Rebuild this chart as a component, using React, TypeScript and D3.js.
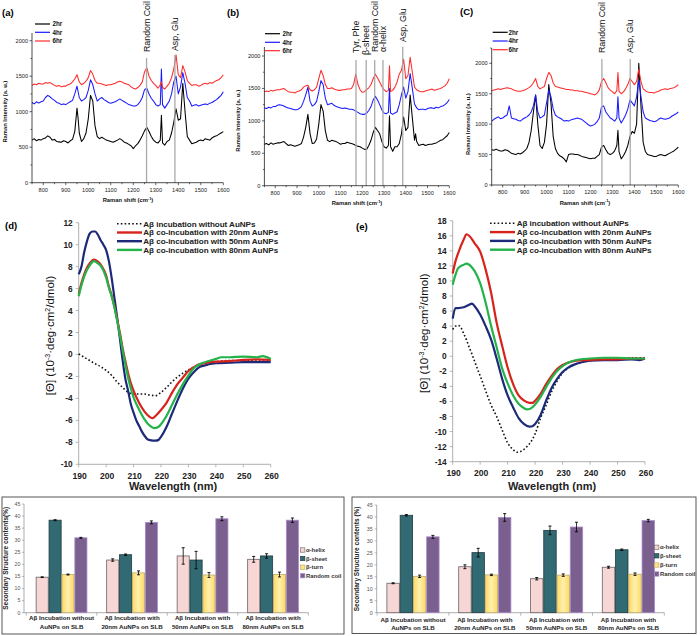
import React from 'react';
import * as d3 from 'd3';

const FONT = 'Arial, "Liberation Sans", Helvetica, sans-serif';
type Pt = [number, number];

// ---------------- Raman spectra (Raman shift cm-1, intensity a.u.) ----------------
const RAMAN_A_2HR: Pt[] = [[750,600],[760,620],[770,590],[780,610],[790,600],[800,620],[810,630],[820,660],[830,640],[840,600],[850,610],[860,580],[870,575],[880,570],[890,590],[900,580],[910,560],[920,590],[930,610],[940,720],[950,1050],[955,900],[960,700],[970,580],[980,620],[990,700],[1000,900],[1010,1230],[1020,1150],[1030,800],[1040,650],[1050,620],[1060,640],[1070,620],[1080,600],[1090,590],[1100,580],[1110,570],[1120,585],[1130,600],[1140,620],[1150,600],[1160,570],[1170,560],[1180,540],[1190,520],[1200,480],[1210,520],[1220,550],[1230,600],[1240,660],[1250,730],[1260,780],[1270,720],[1280,650],[1290,600],[1300,570],[1310,560],[1320,600],[1325,950],[1330,560],[1340,530],[1350,580],[1360,600],[1370,700],[1380,850],[1390,1040],[1400,880],[1410,900],[1420,1400],[1430,1000],[1440,650],[1450,600],[1460,550],[1470,560],[1480,570],[1490,590],[1500,600],[1510,590],[1520,620],[1530,610],[1540,600],[1550,630],[1560,650],[1570,660],[1580,680],[1590,700],[1600,720]];
const RAMAN_A_4HR: Pt[] = [[750,1130],[760,1110],[770,1140],[780,1120],[790,1140],[800,1150],[810,1200],[820,1230],[830,1210],[840,1180],[850,1160],[860,1130],[870,1120],[880,1100],[890,1110],[900,1100],[910,1120],[920,1140],[930,1160],[940,1250],[950,1360],[960,1200],[970,1150],[980,1170],[990,1200],[1000,1300],[1010,1450],[1020,1380],[1030,1250],[1040,1150],[1050,1180],[1060,1200],[1070,1170],[1080,1150],[1090,1130],[1100,1120],[1110,1130],[1120,1140],[1130,1160],[1140,1180],[1150,1160],[1160,1140],[1170,1120],[1180,1100],[1190,1090],[1200,1080],[1210,1080],[1220,1100],[1230,1140],[1240,1200],[1250,1310],[1260,1330],[1270,1250],[1280,1190],[1290,1150],[1300,1100],[1310,1080],[1320,1100],[1325,1600],[1330,1100],[1340,1050],[1350,1100],[1360,1150],[1370,1250],[1380,1420],[1390,1500],[1400,1250],[1410,1350],[1420,1550],[1430,1400],[1440,1200],[1450,1150],[1460,1080],[1470,1090],[1480,1100],[1490,1080],[1500,1090],[1510,1100],[1520,1110],[1530,1100],[1540,1120],[1550,1130],[1560,1150],[1570,1170],[1580,1200],[1590,1230],[1600,1280]];
const RAMAN_A_6HR: Pt[] = [[750,1370],[760,1390],[770,1380],[780,1400],[790,1390],[800,1390],[810,1410],[820,1400],[830,1410],[840,1390],[850,1370],[860,1360],[870,1370],[880,1350],[890,1360],[900,1360],[910,1380],[920,1390],[930,1420],[940,1460],[950,1520],[960,1420],[970,1380],[980,1400],[990,1430],[1000,1480],[1010,1580],[1020,1530],[1030,1440],[1040,1400],[1050,1400],[1060,1390],[1070,1380],[1080,1370],[1090,1380],[1100,1380],[1110,1390],[1120,1400],[1130,1420],[1140,1430],[1150,1420],[1160,1400],[1170,1390],[1180,1380],[1190,1350],[1200,1330],[1210,1320],[1220,1340],[1230,1370],[1240,1420],[1250,1560],[1260,1620],[1270,1500],[1280,1440],[1290,1400],[1300,1370],[1310,1330],[1320,1380],[1325,1420],[1330,1340],[1340,1320],[1350,1360],[1360,1400],[1370,1480],[1380,1600],[1390,1800],[1400,1520],[1410,1480],[1420,1650],[1430,1560],[1440,1440],[1450,1400],[1460,1370],[1470,1380],[1480,1380],[1490,1360],[1500,1370],[1510,1390],[1520,1400],[1530,1390],[1540,1410],[1550,1400],[1560,1420],[1570,1440],[1580,1450],[1590,1480],[1600,1520]];

const RAMAN_B_2HR: Pt[] = [[750,640],[760,650],[770,630],[780,660],[790,640],[800,650],[810,660],[820,660],[830,670],[840,680],[850,650],[860,620],[870,630],[880,620],[890,610],[900,620],[910,630],[920,650],[930,750],[940,900],[950,1100],[960,800],[970,650],[980,660],[990,720],[1000,950],[1010,1250],[1020,1150],[1030,850],[1040,700],[1050,680],[1060,700],[1070,690],[1080,680],[1090,660],[1100,640],[1110,650],[1120,650],[1130,670],[1140,660],[1150,650],[1160,640],[1170,620],[1180,610],[1190,600],[1200,580],[1210,560],[1220,560],[1230,620],[1240,700],[1250,820],[1260,900],[1270,850],[1280,800],[1290,680],[1300,600],[1310,580],[1320,620],[1325,1080],[1330,600],[1340,530],[1350,600],[1360,600],[1370,650],[1380,800],[1390,1060],[1400,850],[1410,900],[1420,1400],[1430,1050],[1440,700],[1445,800],[1450,680],[1460,620],[1470,630],[1480,640],[1490,620],[1500,630],[1510,640],[1520,640],[1530,650],[1540,660],[1550,680],[1560,700],[1570,710],[1580,740],[1590,770],[1600,820]];
const RAMAN_B_4HR: Pt[] = [[750,1200],[760,1190],[770,1210],[780,1200],[790,1220],[800,1220],[810,1240],[820,1250],[830,1240],[840,1230],[850,1210],[860,1200],[870,1190],[880,1180],[890,1170],[900,1170],[910,1190],[920,1220],[930,1300],[940,1400],[950,1520],[960,1300],[970,1230],[980,1250],[990,1300],[1000,1450],[1010,1620],[1020,1560],[1030,1350],[1040,1250],[1050,1260],[1060,1270],[1070,1240],[1080,1220],[1090,1210],[1100,1200],[1110,1190],[1120,1200],[1130,1190],[1140,1180],[1150,1180],[1160,1170],[1170,1150],[1180,1130],[1190,1110],[1200,1100],[1210,1100],[1220,1120],[1230,1160],[1240,1220],[1250,1320],[1260,1380],[1270,1320],[1280,1250],[1290,1170],[1300,1120],[1310,1110],[1320,1130],[1325,1500],[1330,1120],[1340,1100],[1350,1120],[1360,1140],[1370,1250],[1380,1400],[1390,1520],[1400,1350],[1410,1450],[1420,1730],[1430,1500],[1440,1260],[1450,1200],[1460,1170],[1470,1180],[1480,1180],[1490,1170],[1500,1190],[1510,1200],[1520,1200],[1530,1190],[1540,1210],[1550,1200],[1560,1220],[1570,1230],[1580,1250],[1590,1280],[1600,1330]];
const RAMAN_B_6HR: Pt[] = [[750,1450],[760,1460],[770,1450],[780,1470],[790,1460],[800,1470],[810,1480],[820,1480],[830,1490],[840,1500],[850,1470],[860,1450],[870,1440],[880,1440],[890,1430],[900,1450],[910,1460],[920,1480],[930,1520],[940,1540],[950,1550],[960,1480],[970,1460],[980,1480],[990,1520],[1000,1650],[1010,1780],[1020,1700],[1030,1560],[1040,1500],[1050,1500],[1060,1510],[1070,1490],[1080,1480],[1090,1470],[1100,1470],[1110,1480],[1120,1480],[1130,1490],[1140,1490],[1150,1500],[1160,1560],[1170,1720],[1180,1560],[1190,1480],[1200,1440],[1210,1450],[1220,1480],[1230,1510],[1240,1560],[1250,1650],[1260,1720],[1270,1660],[1280,1600],[1290,1530],[1300,1480],[1310,1450],[1320,1470],[1325,1850],[1330,1450],[1340,1470],[1350,1520],[1360,1600],[1370,1720],[1380,1780],[1390,1950],[1400,1650],[1410,1700],[1420,1980],[1430,1750],[1440,1520],[1450,1480],[1460,1460],[1470,1450],[1480,1450],[1490,1460],[1500,1470],[1510,1480],[1520,1490],[1530,1470],[1540,1480],[1550,1490],[1560,1500],[1570,1520],[1580,1540],[1590,1580],[1600,1650]];

const RAMAN_C_2HR: Pt[] = [[750,580],[760,570],[770,590],[780,570],[790,560],[800,560],[810,580],[820,570],[830,550],[840,520],[850,510],[860,500],[870,520],[880,510],[890,530],[900,560],[910,600],[920,700],[930,900],[940,1200],[950,1480],[960,1000],[970,650],[980,600],[990,700],[1000,1000],[1010,1650],[1020,1350],[1030,800],[1040,600],[1050,520],[1060,480],[1070,460],[1080,430],[1090,380],[1100,500],[1110,510],[1120,510],[1130,500],[1140,500],[1150,490],[1160,470],[1170,460],[1180,450],[1190,440],[1200,430],[1210,440],[1220,440],[1230,470],[1240,500],[1250,620],[1260,650],[1270,580],[1280,520],[1290,500],[1300,520],[1310,560],[1320,650],[1325,900],[1330,550],[1340,430],[1350,480],[1360,550],[1370,650],[1380,800],[1390,880],[1400,850],[1410,1000],[1420,2000],[1430,1300],[1440,700],[1450,550],[1460,500],[1470,490],[1480,480],[1490,470],[1500,470],[1510,490],[1520,500],[1530,490],[1540,480],[1550,500],[1560,520],[1570,540],[1580,560],[1590,590],[1600,620]];
const RAMAN_C_4HR: Pt[] = [[750,1050],[760,1080],[770,1100],[780,1120],[790,1090],[800,1100],[810,1130],[820,1150],[830,1300],[840,1100],[850,1090],[860,1080],[870,1060],[880,1050],[890,1080],[900,1100],[910,1120],[920,1150],[930,1200],[940,1300],[950,1480],[960,1200],[970,1100],[980,1120],[990,1150],[1000,1350],[1010,1560],[1020,1450],[1030,1250],[1040,1150],[1050,1120],[1060,1100],[1070,1080],[1080,1050],[1090,1060],[1100,1050],[1110,1070],[1120,1080],[1130,1090],[1140,1100],[1150,1090],[1160,1080],[1170,1050],[1180,1020],[1190,990],[1200,970],[1210,980],[1220,1000],[1230,1040],[1240,1100],[1250,1280],[1260,1300],[1270,1200],[1280,1150],[1290,1100],[1300,1080],[1310,1050],[1320,1100],[1325,1450],[1330,1100],[1340,1020],[1350,1080],[1360,1150],[1370,1250],[1380,1400],[1390,1350],[1400,1300],[1410,1450],[1420,1720],[1430,1450],[1440,1200],[1450,1100],[1460,1080],[1470,1060],[1480,1050],[1490,1040],[1500,1050],[1510,1080],[1520,1100],[1530,1090],[1540,1080],[1550,1090],[1560,1100],[1570,1130],[1580,1150],[1590,1170],[1600,1200]];
const RAMAN_C_6HR: Pt[] = [[750,1550],[760,1560],[770,1570],[780,1580],[790,1570],[800,1580],[810,1590],[820,1600],[830,1590],[840,1580],[850,1560],[860,1550],[870,1540],[880,1540],[890,1550],[900,1560],[910,1580],[920,1600],[930,1630],[940,1680],[950,1750],[960,1620],[970,1580],[980,1600],[990,1620],[1000,1750],[1010,1850],[1020,1800],[1030,1680],[1040,1620],[1050,1610],[1060,1600],[1070,1590],[1080,1580],[1090,1570],[1100,1570],[1110,1560],[1120,1560],[1130,1550],[1140,1550],[1150,1540],[1160,1540],[1170,1530],[1180,1520],[1190,1510],[1200,1500],[1210,1490],[1220,1480],[1230,1510],[1240,1560],[1250,1700],[1260,1750],[1270,1680],[1280,1600],[1290,1560],[1300,1530],[1310,1500],[1320,1550],[1325,1850],[1330,1540],[1340,1500],[1350,1530],[1360,1580],[1370,1650],[1380,1750],[1390,1700],[1400,1650],[1410,1700],[1420,1900],[1430,1700],[1440,1580],[1450,1550],[1460,1530],[1470,1520],[1480,1520],[1490,1510],[1500,1530],[1510,1540],[1520,1560],[1530,1570],[1540,1580],[1550,1570],[1560,1580],[1570,1590],[1580,1600],[1590,1620],[1600,1650]];

const RAMAN_X_TICKS = [800, 900, 1000, 1100, 1200, 1300, 1400, 1500, 1600];
const RAMAN_Y_TICKS = [0, 500, 1000, 1500, 2000];
const TIME_LABELS = ['2hr', '4hr', '6hr'];

// ---------------- CD spectra (wavelength nm, [θ] 10^-3 deg cm2/dmol) ----------------
const CD_D_NONE: Pt[] = [[190,0.05],[192,-0.25],[194,-0.55],[196,-0.85],[198,-1.1],[200,-1.45],[202,-1.9],[204,-2.5],[206,-3.0],[208,-3.45],[210,-3.6],[212,-3.6],[214,-3.6],[216,-3.7],[218,-3.75],[220,-3.45],[222,-3.0],[224,-2.5],[226,-2.05],[228,-1.7],[230,-1.4],[232,-1.15],[234,-0.9],[236,-0.75],[240,-0.65],[245,-0.55],[250,-0.55],[255,-0.5],[260,-0.5]];
const CD_D_20: Pt[] = [[190,5.5],[191,6.5],[192,7.3],[193,7.9],[194,8.3],[195.5,8.65],[197,8.45],[198.5,8.0],[200,7.2],[201,6.2],[202,5.4],[203,4.4],[204,3.2],[205,2.0],[206,0.6],[207,-0.6],[208,-1.7],[209,-2.6],[210,-3.3],[212,-4.4],[214,-5.2],[216,-5.7],[217,-5.8],[218,-5.6],[220,-5.05],[222,-4.4],[224,-3.5],[226,-2.7],[228,-2.1],[230,-1.5],[232,-1.15],[234,-0.9],[236,-0.8],[238,-0.7],[240,-0.65],[245,-0.6],[250,-0.5],[255,-0.45],[260,-0.5]];
const CD_D_50: Pt[] = [[190,7.3],[191,8.0],[192,9.3],[193,10.3],[194,11.0],[195,11.2],[196,11.2],[197,10.9],[198,10.4],[199,10.0],[200,9.5],[201,8.5],[202,7.0],[203,5.2],[204,3.4],[205,1.5],[206,-0.5],[207,-2.2],[208,-3.3],[209,-4.5],[210,-5.3],[211,-6.0],[212,-6.5],[213,-7.0],[214,-7.4],[215,-7.7],[216,-7.8],[218,-7.85],[219,-7.8],[220,-7.5],[222,-6.6],[224,-5.4],[226,-4.2],[228,-3.1],[230,-2.2],[232,-1.6],[234,-1.15],[236,-1.0],[238,-0.85],[240,-0.8],[245,-0.75],[250,-0.7],[255,-0.7],[260,-0.7]];
const CD_D_80: Pt[] = [[190,5.3],[191,6.3],[192,7.1],[193,7.7],[194,8.1],[195.5,8.5],[197,8.3],[198.5,7.9],[200,7.0],[201,6.1],[202,5.3],[203,4.3],[204,3.1],[205,1.8],[206,0.4],[207,-0.9],[208,-2.1],[209,-3.1],[210,-3.9],[212,-5.0],[214,-5.9],[216,-6.5],[217.5,-6.7],[219,-6.6],[220,-6.35],[222,-5.6],[224,-4.6],[226,-3.6],[228,-2.7],[230,-1.9],[232,-1.25],[234,-0.9],[236,-0.7],[238,-0.55],[240,-0.4],[242,-0.25],[245,-0.25],[250,-0.2],[255,-0.25],[257,-0.15],[260,-0.4]];

const CD_E_NONE: Pt[] = [[190,3.55],[191,4.0],[192,4.1],[193,3.8],[194,3.0],[195,2.2],[196,1.2],[197,0.3],[198,-0.7],[200,-2.6],[202,-4.6],[204,-6.5],[206,-8.0],[208,-9.8],[210,-11.5],[212,-12.4],[213.5,-12.75],[215,-12.6],[217,-12.0],[218,-11.6],[220,-10.3],[222,-8.2],[224,-6.5],[226,-4.7],[228,-3.3],[230,-2.2],[232,-1.6],[235,-1.0],[240,-0.6],[245,-0.4],[250,-0.3],[255,-0.2],[260,-0.2]];
const CD_E_20: Pt[] = [[190,11.0],[191,12.6],[192,13.7],[194,15.5],[195,16.2],[196,16.0],[198,15.0],[200,13.9],[202,11.5],[204,8.4],[206,4.45],[208,1.4],[210,-1.5],[212,-3.7],[214,-5.2],[216,-5.9],[218,-6.2],[219,-6.2],[220,-5.9],[222,-5.0],[224,-3.7],[226,-2.6],[228,-1.7],[230,-1.15],[232,-0.85],[235,-0.6],[240,-0.5],[245,-0.4],[250,-0.4],[255,-0.3],[260,-0.3]];
const CD_E_50: Pt[] = [[190,5.0],[191,6.4],[192,6.4],[194,6.5],[196,6.85],[197,7.0],[198,6.65],[200,5.55],[202,4.0],[204,2.2],[206,-0.3],[208,-3.0],[210,-5.2],[212,-6.8],[214,-8.2],[216,-9.0],[218,-9.35],[219,-9.3],[220,-9.0],[222,-7.8],[224,-5.9],[226,-4.2],[228,-3.0],[230,-2.1],[232,-1.5],[235,-1.0],[240,-0.6],[245,-0.5],[250,-0.5],[255,-0.4],[258,-0.5],[260,-0.3]];
const CD_E_80: Pt[] = [[190,9.5],[191,10.8],[192,11.7],[194,12.15],[195,12.3],[196,12.15],[198,11.3],[200,9.7],[202,7.1],[204,4.0],[206,1.2],[208,-1.6],[210,-3.6],[212,-5.2],[214,-6.3],[216,-6.9],[217,-7.05],[218,-7.0],[220,-6.4],[222,-5.4],[224,-4.1],[226,-2.9],[228,-1.95],[230,-1.3],[232,-0.85],[235,-0.5],[240,-0.3],[245,-0.2],[250,-0.2],[255,-0.3],[260,-0.3]];

const CD_X_TICKS = [190, 200, 210, 220, 230, 240, 250, 260];
const CD_LEGEND = ['Aβ incubation without AuNPs', 'Aβ co-incubation with 20nm AuNPs', 'Aβ co-incubation with 50nm AuNPs', 'Aβ co-incubation with 80nm AuNPs'];

// ---------------- Secondary structure bars (%) ----------------
const STRUCTURES = ['α-helix', 'β-sheet', 'β-turn', 'Random coil'];
const CONDITIONS = [
  ['Aβ Incubation without', 'AuNPs on SLB'],
  ['Aβ Incubation with', '20nm AuNPs on SLB'],
  ['Aβ Incubation with', '50nm AuNPs on SLB'],
  ['Aβ Incubation with', '80nm AuNPs on SLB'],
];
const SS_TICKS = [0, 5, 10, 15, 20, 25, 30, 35, 40, 45];
const L_ALPHA = [14.7, 21.8, 23.5, 22.1];
const L_ALPHA_ERR = [0.15, 0.5, 3.4, 1.2];
const L_SHEET = [38.3, 24.0, 21.8, 23.5];
const L_SHEET_ERR = [0.2, 0.3, 3.6, 0.9];
const L_TURN = [15.8, 16.5, 15.6, 15.8];
const L_TURN_ERR = [0.2, 0.8, 1.0, 1.0];
const L_COIL = [31.0, 37.4, 38.9, 38.3];
const L_COIL_ERR = [0.2, 0.6, 0.8, 0.9];

const R_ALPHA = [12.3, 19.2, 14.2, 19.0];
const R_ALPHA_ERR = [0.2, 0.8, 0.5, 0.4];
const R_SHEET = [40.7, 25.1, 34.4, 26.3];
const R_SHEET_ERR = [0.3, 1.8, 1.8, 0.3];
const R_TURN = [15.2, 15.8, 15.7, 16.1];
const R_TURN_ERR = [0.5, 0.3, 0.5, 0.5];
const R_COIL = [31.7, 39.8, 35.8, 38.5];
const R_COIL_ERR = [0.6, 1.6, 2.0, 0.5];

// ---------------- Raman panel ----------------
type Marker = { nm: number; top: number; label: string; bottom: number };
type RamanCfg = {
  x0: number; x1: number; yZero: number; y2000: number; axisTop: number;
  series: Pt[][]; markers: Marker[];
  legX: number; legTextX: number; legY: number[];
  tag: string; tagX: number; tagY: number;
  yLabX: number; xLabX: number;
};
const RAMAN_COLORS = ['#000000', '#1a1aff', '#ff2a2a'];

function RamanPanel({ c }: { c: RamanCfg }) {
  const x = d3.scaleLinear().domain([750, 1600]).range([c.x0, c.x1]);
  const y = d3.scaleLinear().domain([0, 2000]).range([c.yZero, c.y2000]);
  const line = d3.line<Pt>().x(d => x(d[0])).y(d => y(d[1]));
  const minorX = d3.range(750, 1601, 50);
  const yTop = y.invert(c.axisTop);
  const minorY = d3.range(250, yTop, 500);
  return (
    <g fontFamily={FONT}>
      {c.series.map((s, i) => (
        <path key={i} d={line(s) || ''} fill="none" stroke={RAMAN_COLORS[i]} strokeWidth={1.05} strokeLinejoin="round" />
      ))}
      {c.markers.map((m, i) => (
        <g key={i}>
          <line x1={x(m.nm)} x2={x(m.nm)} y1={m.top} y2={c.yZero} stroke="#a9a9a9" strokeWidth={1.3} />
          <text transform={`translate(${x(m.nm)},${m.bottom}) rotate(-90)`} dy="0.36em" fontSize={8.8} fill="#111">{m.label}</text>
        </g>
      ))}
      <line x1={c.x0} x2={c.x0} y1={c.axisTop} y2={c.yZero} stroke="#000" strokeWidth={0.7} />
      <line x1={c.x0} x2={c.x1} y1={c.yZero} y2={c.yZero} stroke="#000" strokeWidth={0.7} />
      {minorX.map(t => (
        <line key={'mx' + t} x1={x(t)} x2={x(t)} y1={c.yZero} y2={c.yZero + (t % 100 === 0 ? 2.5 : 1.5)} stroke="#000" strokeWidth={0.6} />
      ))}
      {RAMAN_X_TICKS.map(t => (
        <text key={'xt' + t} x={x(t)} y={c.yZero + 9} textAnchor="middle" fontSize={5.6} fill="#222">{t}</text>
      ))}
      {RAMAN_Y_TICKS.map(t => (
        <g key={'yt' + t}>
          <line x1={c.x0 - 2.5} x2={c.x0} y1={y(t)} y2={y(t)} stroke="#000" strokeWidth={0.6} />
          <text x={c.x0 - 4} y={y(t)} dy="0.35em" textAnchor="end" fontSize={5.6} fill="#222">{t}</text>
        </g>
      ))}
      {minorY.map(t => (
        <line key={'my' + t} x1={c.x0 - 1.5} x2={c.x0} y1={y(t)} y2={y(t)} stroke="#000" strokeWidth={0.6} />
      ))}
      {TIME_LABELS.map((l, i) => (
        <g key={l}>
          <line x1={c.legX} x2={c.legX + 15} y1={c.legY[i]} y2={c.legY[i]} stroke={RAMAN_COLORS[i]} strokeWidth={1.2} />
          <text x={c.legTextX} y={c.legY[i]} dy="0.35em" fontSize={6.3} fontWeight="bold" fill="#111">{l}</text>
        </g>
      ))}
      <text x={c.tagX} y={c.tagY} fontSize={9.5} fontWeight="bold">{c.tag}</text>
      <text transform={`translate(${c.yLabX},${(c.yZero + c.y2000) / 2}) rotate(-90)`} textAnchor="middle" fontSize={5.8} fontWeight="bold" fill="#111">Raman Intensity (a. u.)</text>
      <text x={c.xLabX} y={c.yZero + 19.5} textAnchor="middle" fontSize={5.8} fontWeight="bold" fill="#111">
        Raman shift (cm<tspan dy={-2.2} fontSize={4}>-1</tspan><tspan dy={2.2}>)</tspan>
      </text>
    </g>
  );
}

// ---------------- CD panel ----------------
type CDCfg = {
  x0: number; x1: number; yMin: number; yMax: number; yBottom: number; yTop: number;
  series: Pt[][]; legLineX: number; legTextX: number; legY: number[];
  tag: string; tagX: number; tagY: number; yLabX: number; wlX: number;
};
const CD_COLORS = ['#111111', '#d8231d', '#1c2a78', '#24b34b'];

function CDPanel({ c }: { c: CDCfg }) {
  const x = d3.scaleLinear().domain([190, 260]).range([c.x0, c.x1]);
  const y = d3.scaleLinear().domain([c.yMin, c.yMax]).range([c.yBottom, c.yTop]);
  const line = d3.line<Pt>().x(d => x(d[0])).y(d => y(d[1])).curve(d3.curveMonotoneX);
  const yTicks = d3.range(c.yMin, c.yMax + 0.01, 2);
  const order = [0, 2, 1, 3];
  return (
    <g fontFamily={FONT}>
      <line x1={c.x0} x2={c.x0} y1={c.yTop} y2={c.yBottom} stroke="#9a9a9a" strokeWidth={0.8} />
      <line x1={c.x0} x2={c.x1} y1={c.yBottom} y2={c.yBottom} stroke="#9a9a9a" strokeWidth={0.8} />
      {yTicks.map(t => (
        <g key={t}>
          <line x1={c.x0 - 3} x2={c.x0} y1={y(t)} y2={y(t)} stroke="#9a9a9a" strokeWidth={0.7} />
          <text x={c.x0 - 6} y={y(t)} dy="0.36em" textAnchor="end" fontSize={8.3} fontWeight="bold" fill="#222">{t}</text>
        </g>
      ))}
      {CD_X_TICKS.map(t => (
        <g key={t}>
          <line x1={x(t)} x2={x(t)} y1={c.yBottom} y2={c.yBottom + 3} stroke="#9a9a9a" strokeWidth={0.7} />
          <text x={x(t) + 1} y={c.yBottom + 14.5} textAnchor="middle" fontSize={8.6} fontWeight="bold" fill="#222">{t}</text>
        </g>
      ))}
      {order.map(i => (
        <path key={i} d={line(c.series[i]) || ''} fill="none" stroke={CD_COLORS[i]}
          strokeWidth={i === 0 ? 1.6 : 2.2} strokeDasharray={i === 0 ? '1.6,2.2' : undefined} />
      ))}
      {CD_LEGEND.map((l, i) => (
        <g key={l}>
          <line x1={c.legLineX} x2={c.legLineX + 25} y1={c.legY[i]} y2={c.legY[i]} stroke={CD_COLORS[i]}
            strokeWidth={i === 0 ? 1.6 : 2.4} strokeDasharray={i === 0 ? '1.6,2.2' : undefined} />
          <text x={c.legTextX} y={c.legY[i]} dy="0.36em" fontSize={8.1} fontWeight="bold" fill="#222" letterSpacing={-0.05}>{l}</text>
        </g>
      ))}
      <text x={c.tagX} y={c.tagY} fontSize={9.5} fontWeight="bold">{c.tag}</text>
      <text transform={`translate(${c.yLabX},${(c.yTop + c.yBottom) / 2 - 8}) rotate(-90)`} textAnchor="middle" fontSize={11.5} fill="#111">
        [Θ] (10<tspan dy={-4} fontSize={7}>-3</tspan><tspan dy={4}>·deg·cm</tspan><tspan dy={-4} fontSize={7}>2</tspan><tspan dy={4}>/dmol)</tspan>
      </text>
      <text x={c.wlX} y={490} textAnchor="middle" fontSize={11} fontWeight="bold" fill="#222">Wavelength (nm)</text>
    </g>
  );
}

// ---------------- Bar panel ----------------
type BarCfg = {
  box: [number, number, number, number];
  axisX: number; bandStart: number; band: number; groupW: number; yZero: number; y45: number;
  values: number[][]; errs: number[][];
  legSqX: number; legY: number[]; yLabX: number; yLab: string; tickRight: number;
  labY1: number; labY2: number;
};
const BAR_FILL = ['#f6d7d6', '#316a72', '#ffe27e', '#7b5f8f'];
const BAR_STROKE = ['#6e6262', '#1f3b40', '#b9aa70', '#a98ccb'];

function BarPanel({ c }: { c: BarCfg }) {
  const xc = d3.scaleBand<number>().domain([0, 1, 2, 3]).range([c.bandStart, c.bandStart + 4 * c.band]);
  const xs = d3.scaleBand<number>().domain([0, 1, 2, 3]).range([0, c.groupW]);
  const y = d3.scaleLinear().domain([0, 45]).range([c.yZero, c.y45]);
  const off = (c.band - c.groupW) / 2;
  const [bx, by, bw, bh] = c.box;
  return (
    <g fontFamily={FONT}>
      <rect x={bx} y={by} width={bw} height={bh} fill="#fff" stroke="#444" strokeWidth={0.9} />
      <defs>
        <linearGradient id={'yg' + bx} x1="0" x2="1" y1="0" y2="0">
          <stop offset="0" stopColor="#ffd95e" />
          <stop offset="0.5" stopColor="#fff0b0" />
          <stop offset="1" stopColor="#ffd95e" />
        </linearGradient>
      </defs>
      <line x1={c.axisX} x2={c.axisX} y1={c.y45} y2={c.yZero} stroke="#8a8a8a" strokeWidth={0.7} />
      <line x1={c.axisX} x2={c.bandStart + 4 * c.band} y1={c.yZero} y2={c.yZero} stroke="#8a8a8a" strokeWidth={0.7} />
      {SS_TICKS.map(t => (
        <g key={t}>
          <line x1={c.axisX - 2} x2={c.axisX} y1={y(t)} y2={y(t)} stroke="#8a8a8a" strokeWidth={0.6} />
          <text x={c.tickRight} y={y(t)} dy="0.35em" textAnchor="end" fontSize={5.3} fill="#555">{t}</text>
        </g>
      ))}
      {[0, 1, 2, 3, 4].map(i => (
        <line key={i} x1={c.bandStart + i * c.band} x2={c.bandStart + i * c.band} y1={c.yZero} y2={c.yZero + 3} stroke="#8a8a8a" strokeWidth={0.6} />
      ))}
      {CONDITIONS.map((lab, ci) => (
        <g key={ci}>
          {STRUCTURES.map((s, si) => {
            const v = c.values[si][ci];
            const e = c.errs[si][ci];
            const bx0 = (xc(ci) || 0) + off + (xs(si) || 0);
            const w = xs.bandwidth();
            const cx = bx0 + w / 2;
            return (
              <g key={s}>
                <rect x={bx0 + 0.4} y={y(v)} width={w - 0.8} height={c.yZero - y(v)}
                  fill={si === 2 ? `url(#yg${bx})` : BAR_FILL[si]} stroke={BAR_STROKE[si]} strokeWidth={0.8} />
                <line x1={cx} x2={cx} y1={y(v + e)} y2={y(v - e)} stroke="#000" strokeWidth={0.8} />
                <line x1={cx - 1.5} x2={cx + 1.5} y1={y(v + e)} y2={y(v + e)} stroke="#000" strokeWidth={0.9} />
                <line x1={cx - 1.5} x2={cx + 1.5} y1={y(v - e)} y2={y(v - e)} stroke="#000" strokeWidth={0.9} />
              </g>
            );
          })}
          <text x={(xc(ci) || 0) + c.band / 2} y={c.labY1} textAnchor="middle" fontSize={6.2} fontWeight="bold" fill="#222">{lab[0]}</text>
          <text x={(xc(ci) || 0) + c.band / 2} y={c.labY2} textAnchor="middle" fontSize={6.2} fontWeight="bold" fill="#222">{lab[1]}</text>
        </g>
      ))}
      {STRUCTURES.map((s, si) => (
        <g key={s}>
          <rect x={c.legSqX} y={c.legY[si] - 2.2} width={4.4} height={4.4} fill={si === 2 ? '#ffe27e' : BAR_FILL[si]} stroke={BAR_STROKE[si]} strokeWidth={0.6} />
          <text x={c.legSqX + 5.5} y={c.legY[si]} dy="0.35em" fontSize={5.9} fontWeight="bold" fill="#333">{s}</text>
        </g>
      ))}
      <text transform={`translate(${c.yLabX},${(c.yZero + c.y45) / 2}) rotate(-90)`} textAnchor="middle" fontSize={6.5} fontWeight="bold" fill="#222">{c.yLab}</text>
    </g>
  );
}

export default function App() {
  const ramanA: RamanCfg = {
    x0: 32, x1: 223.3, yZero: 182.7, y2000: 40.7, axisTop: 33,
    series: [RAMAN_A_2HR, RAMAN_A_4HR, RAMAN_A_6HR],
    markers: [
      { nm: 1259, top: 58, label: 'Random Coil', bottom: 52 },
      { nm: 1385, top: 55, label: 'Asp, Glu', bottom: 51 },
    ],
    legX: 35, legTextX: 52.5, legY: [24, 32.3, 41], tag: '(a)', tagX: 2, tagY: 16, yLabX: 7, xLabX: 128,
  };
  const ramanB: RamanCfg = {
    x0: 264.4, x1: 449.3, yZero: 185.7, y2000: 56, axisTop: 47,
    series: [RAMAN_B_2HR, RAMAN_B_4HR, RAMAN_B_6HR],
    markers: [
      { nm: 1171, top: 60, label: 'Tyr, Phe', bottom: 53 },
      { nm: 1218, top: 60, label: 'β-sheet', bottom: 55 },
      { nm: 1257, top: 60, label: 'Random Coil', bottom: 52 },
      { nm: 1295, top: 60, label: 'α-helix', bottom: 52 },
      { nm: 1386, top: 46.7, label: 'Asp, Glu', bottom: 42 },
    ],
    legX: 265, legTextX: 282.5, legY: [33.7, 42.3, 50.7], tag: '(b)', tagX: 227, tagY: 16, yLabX: 240, xLabX: 357,
  };
  const ramanC: RamanCfg = {
    x0: 491.7, x1: 678.3, yZero: 185, y2000: 63.3, axisTop: 48,
    series: [RAMAN_C_2HR, RAMAN_C_4HR, RAMAN_C_6HR],
    markers: [
      { nm: 1252, top: 59, label: 'Random Coil', bottom: 53 },
      { nm: 1381, top: 59, label: 'Asp, Glu', bottom: 53 },
    ],
    legX: 492.7, legTextX: 508.5, legY: [32.3, 41, 49.7], tag: '(C)', tagX: 460, tagY: 15, yLabX: 470, xLabX: 585,
  };
  const cdD: CDCfg = {
    x0: 78.7, x1: 270.7, yMin: -10, yMax: 12, yBottom: 464.3, yTop: 222.7,
    series: [CD_D_NONE, CD_D_20, CD_D_50, CD_D_80],
    legLineX: 117, legTextX: 143.3, legY: [223.8, 232.5, 241.2, 249.9],
    tag: '(d)', tagX: 5, tagY: 229, yLabX: 54, wlX: 173,
  };
  const cdE: CDCfg = {
    x0: 452.7, x1: 645, yMin: -14, yMax: 18, yBottom: 461.7, yTop: 220.7,
    series: [CD_E_NONE, CD_E_20, CD_E_50, CD_E_80],
    legLineX: 490, legTextX: 516.7, legY: [223.3, 232.1, 240.9, 249.7],
    tag: '(e)', tagX: 356, tagY: 230, yLabX: 428, wlX: 552,
  };
  const barL: BarCfg = {
    box: [2, 497, 342, 137], axisX: 24, bandStart: 26.3, band: 70.5, groupW: 51.6, yZero: 612.7, y45: 504,
    values: [L_ALPHA, L_SHEET, L_TURN, L_COIL], errs: [L_ALPHA_ERR, L_SHEET_ERR, L_TURN_ERR, L_COIL_ERR],
    legSqX: 300.5, legY: [550, 558.5, 567.2, 575.7], yLabX: 8, yLab: 'Secondary Structure contents(%)', tickRight: 20.5,
    labY1: 620.3, labY2: 629.3,
  };
  const barR: BarCfg = {
    box: [352, 497, 344, 136.5], axisX: 376.7, bandStart: 377.1, band: 71.8, groupW: 53, yZero: 612.7, y45: 505,
    values: [R_ALPHA, R_SHEET, R_TURN, R_COIL], errs: [R_ALPHA_ERR, R_SHEET_ERR, R_TURN_ERR, R_COIL_ERR],
    legSqX: 654.5, legY: [547.3, 555.8, 565, 574], yLabX: 358.5, yLab: 'Secondary Structure contents (%)', tickRight: 372.7,
    labY1: 621.5, labY2: 630.3,
  };
  return (
    <svg width={700} height={636} viewBox="0 0 700 636" style={{ position: 'absolute', left: 0, top: 0, background: '#fff' }}>
      <rect width={700} height={636} fill="#fff" />
      <RamanPanel c={ramanA} />
      <RamanPanel c={ramanB} />
      <RamanPanel c={ramanC} />
      <CDPanel c={cdD} />
      <CDPanel c={cdE} />
      <BarPanel c={barL} />
      <BarPanel c={barR} />
    </svg>
  );
}
